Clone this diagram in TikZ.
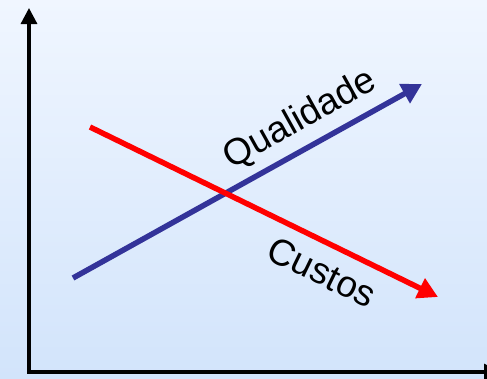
\documentclass[tikz,border=0pt]{standalone}
\usepackage{fontspec}
\setmainfont{Liberation Sans}
\usetikzlibrary{arrows.meta}
\definecolor{bgtop}{HTML}{F0F6FF}
\definecolor{bgbot}{HTML}{D2E4FB}
\definecolor{qblue}{HTML}{333399}
\tikzset{
  axis/.style={line width=3.2pt,-{Triangle[length=16pt,width=16pt]}},
  trend/.style={line width=5.5pt,-{Triangle[length=20pt,width=21pt]}},
  lbl/.style={font=\fontsize{37}{42}\selectfont,inner sep=0pt}
}
\begin{document}
\begin{tikzpicture}[x=1pt,y=-1pt]
\useasboundingbox (0,0) rectangle (487,378);
\shade[top color=bgtop,bottom color=bgbot] (0,0) rectangle (487,378);
\coordinate (o) at (29,372);
\coordinate (ytop) at (29,8);
\coordinate (xend) at (500,372);
\draw[axis] (o) -- (ytop);
\draw[axis] ([xshift=-1.6pt]o) -- (xend);
\coordinate (qs) at (73,278);
\coordinate (qe) at (422,84);
\coordinate (cs) at (90,127);
\coordinate (ce) at (438,297);
\draw[trend,qblue] (qs) -- (qe);
\draw[trend,red] (cs) -- (ce);
\node[lbl,rotate=29] (ql) at (300,120) {Qualidade};
\node[lbl,rotate=-26] (cl) at (322,272) {Custos};
\end{tikzpicture}
\end{document}
